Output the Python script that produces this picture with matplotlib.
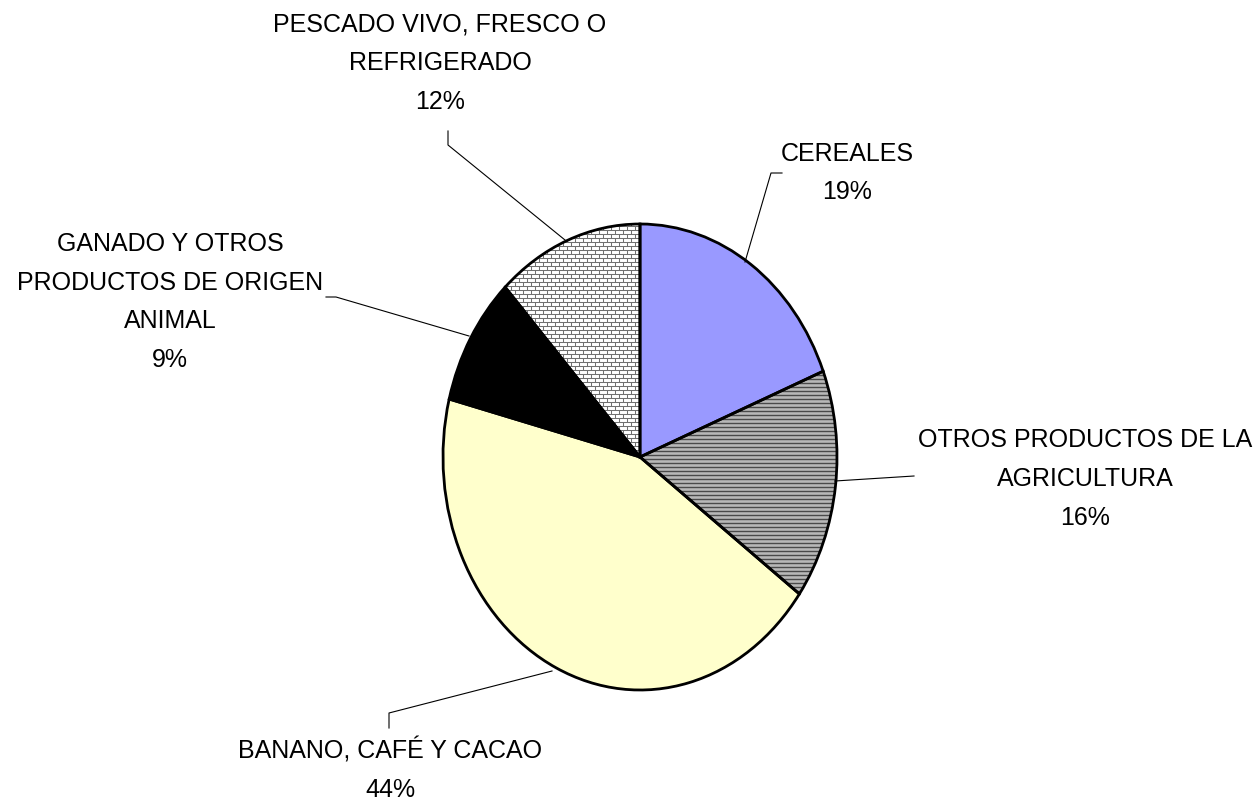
import numpy as np
import matplotlib.pyplot as plt
import matplotlib.transforms as mtransforms
from matplotlib.collections import LineCollection

W, H = 1260, 805

# data, clockwise from 12 o'clock
categories = ['CEREALES',
              'OTROS PRODUCTOS DE LA\nAGRICULTURA',
              'BANANO, CAFÉ Y CACAO',
              'GANADO Y OTROS\nPRODUCTOS DE ORIGEN\nANIMAL',
              'PESCADO VIVO, FRESCO O\nREFRIGERADO']
shares = [19, 16, 44, 9, 12]
colors = ['#9999ff', '#b8b8b8', '#ffffcc', '#000000', '#ffffff']

plt.rcParams['font.family'] = ['Liberation Sans', 'DejaVu Sans']

fig = plt.figure(figsize=(W / 100, H / 100), dpi=100)
# pixel coordinates (y pointing down) -> figure
pix = mtransforms.Affine2D().scale(1 / W, -1 / H).translate(0, 1) + fig.transFigure

ax = fig.add_axes([443 / W, 1 - 690 / H, 394 / W, 466 / H])
wedges, _ = ax.pie(shares, colors=colors, startangle=90, counterclock=False,
                   wedgeprops=dict(edgecolor='none', linewidth=0))
ax.pie(shares, startangle=90, counterclock=False,
       wedgeprops=dict(fill=False, edgecolor='black', linewidth=2.0, zorder=5))
ax.set_aspect('auto')
ax.set_xlim(-1, 1)
ax.set_ylim(-1, 1)
ax.axis('off')

# horizontal stripes for "otros productos de la agricultura"
segs = [[(630, y), (850, y)] for y in np.arange(355, 610, 4)]
lc = LineCollection(segs, colors='#4a4a4a', linewidths=1.0, transform=pix, zorder=3)
ax.add_collection(lc)
lc.set_clip_path(wedges[1])

# brick pattern for "pescado"
rows = np.arange(222, 462, 4)
segs = [[(495, y), (645, y)] for y in rows]
for i, y in enumerate(rows):
    off = 0 if i % 2 == 0 else 4
    for x in np.arange(495 + off, 645, 8):
        segs.append([(x, y), (x, y + 4)])
lc2 = LineCollection(segs, colors='#707070', linewidths=0.75, transform=pix, zorder=3)
ax.add_collection(lc2)
lc2.set_clip_path(wedges[4])

# leader lines
leaders = [
    [(745, 262), (771, 173), (782, 173)],
    [(835, 481), (914, 476)],
    [(552, 671), (389, 713), (389, 728)],
    [(469, 336), (336, 297), (326, 297)],
    [(565, 240), (448, 145), (448, 131)],
]
for pts in leaders:
    xs, ys = zip(*pts)
    fig.add_artist(plt.Line2D(xs, ys, color='black', linewidth=0.8, transform=pix))

# labels (centre positions in pixels)
label_pos = [(847, 173), (1085, 479), (390, 770), (170, 302), (440, 63)]
for name, share, (x, y) in zip(categories, shares, label_pos):
    fig.text(x / W, 1 - y / H, f'{name}\n{share}%', ha='center', va='center',
             fontsize=18, linespacing=1.78, transform=fig.transFigure)

fig.savefig('out.png', dpi=100)
